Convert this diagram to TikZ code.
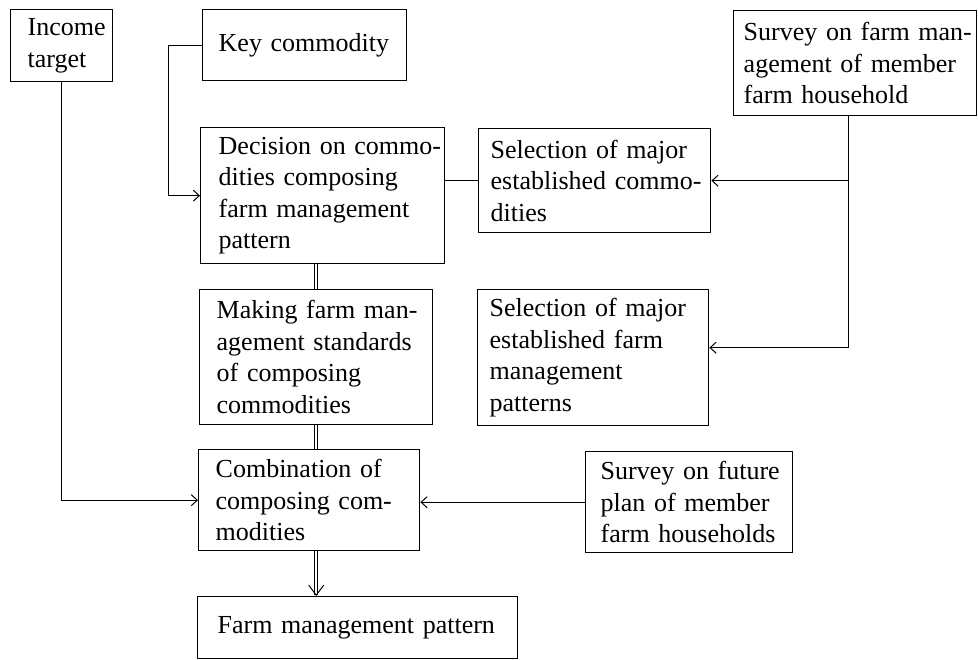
\documentclass[tikz,border=0pt]{standalone}
\usepackage{fontspec}
\setmainfont{Liberation Serif}
\usetikzlibrary{arrows.meta, positioning}

\newcommand{\boxfont}{\fontsize{26}{31.5}\selectfont}

\begin{document}
\begin{tikzpicture}[x=1pt, y=-1pt,
    box/.style={draw, line width=1.4pt, anchor=north west, align=left,
                inner xsep=2pt, inner ysep=0pt, font=\boxfont, lpad=14pt},
    lpad/.style={execute at begin node={\leftskip=#1}},
    link/.style={line width=1pt},
    arr/.style={link, -{Straight Barb[length=6pt, width=11pt]}},
    dbl/.style={double, double distance=2.5pt, line width=0.9pt}]
    \useasboundingbox (0,0) rectangle (978,660);

    % Inputs on top
    \node[box, text width=98pt, minimum height=72pt, lpad=15pt] (income) at (10,9) {Income\\target};
    \node[box, text width=200pt, minimum height=71pt] (key) at (202,9) {Key commodity};
    \node[box, text width=239pt, minimum height=105pt, lpad=8pt] (survey) at (733,10)
        {Survey on farm man-\\agement of member\\farm household};

    % Main column
    \node[box, text width=240pt, minimum height=136pt, lpad=16pt] (decision) at (200,127)
        {Decision on commo-\\dities composing\\farm management\\pattern};
    \node[box, text width=229pt, minimum height=135pt, lpad=15pt] (making) at (199,289)
        {Making farm man-\\agement standards\\of composing\\commodities};
    \node[box, text width=217pt, minimum height=101pt, lpad=15pt] (combination) at (198,449)
        {Combination of\\composing com-\\modities};
    \node[box, text width=316pt, minimum height=62pt, lpad=18pt] (pattern) at (197,596)
        {Farm management pattern};

    % Selections
    \node[box, text width=228pt, minimum height=104pt, lpad=10pt] (selcom) at (478,128)
        {Selection of major\\established commo-\\dities};
    \node[box, text width=227pt, minimum height=136pt, lpad=10pt] (selpat) at (477,289)
        {Selection of major\\established farm\\management\\patterns};
    \node[box, text width=203pt, minimum height=101pt, lpad=13pt] (future) at (585,451)
        {Survey on future\\plan of member\\farm households};

    % Connectors
    \draw[arr] (key.west) -- ++(-34,0) |- (decision.west);
    \draw[arr] (income.south) |- (combination.west);
    \draw[link] (selcom.west -| decision.east) -- (selcom.west);
    \coordinate (trunk) at ([xshift=-7pt]survey.south);
    \draw[arr] (trunk) |- ([yshift=10pt]selpat.east);
    \draw[arr] (trunk |- selcom.east) -- (selcom.east);
    \draw[arr] (future.west) -- (future.west -| combination.east);

    % Double links
    \draw[dbl] (making.north |- decision.south) -- (making.north);
    \draw[dbl] (making.south) -- (making.south |- combination.north);
    \coordinate (tip) at (making.south |- pattern.north);
    \draw[dbl] (making.south |- combination.south) -- ([yshift=1pt]tip);
    \draw[link, -{Straight Barb[length=10pt, width=15pt]}] ([yshift=2pt]tip) -- (tip);
\end{tikzpicture}
\end{document}
